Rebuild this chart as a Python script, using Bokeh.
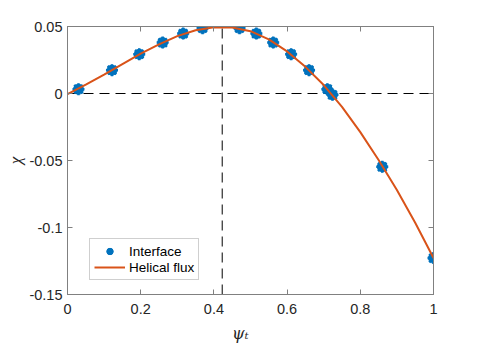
import numpy as np
from bokeh.plotting import figure
from bokeh.models import (Range1d, LinearAxis, FixedTicker, Legend, LegendItem)
from bokeh.embed import file_html
from bokeh.resources import INLINE

# ---- data ----
psi_interface = [0.030, 0.1215, 0.196, 0.260, 0.316, 0.369, 0.470, 0.516,
                 0.562, 0.611, 0.660, 0.710, 0.724, 0.860, 1.000]
chi_interface = [0.0032, 0.0174, 0.0293, 0.0380, 0.0447, 0.0487, 0.0487, 0.0447,
                 0.0380, 0.0293, 0.0174, 0.0032, -0.0010, -0.0547, -0.1228]

psi_flux = [0.0, 0.05, 0.1, 0.15, 0.2, 0.25, 0.3, 0.35, 0.4, 0.45, 0.5,
            0.55, 0.6, 0.65, 0.7, 0.75, 0.8, 0.85, 0.9, 0.95, 1.0]
chi_flux = [-0.0005, 0.0066, 0.0141, 0.0220, 0.0298, 0.0367, 0.0428, 0.0472,
            0.0494, 0.0493, 0.0465, 0.0404, 0.0314, 0.0199, 0.0063, -0.0100,
            -0.0288, -0.0496, -0.0720, -0.0965, -0.1228]

psi_peak = 0.4227
x_ticks = [0, 0.2, 0.4, 0.6, 0.8, 1]
x_tick_labels = ["0", "0.2", "0.4", "0.6", "0.8", "1"]
y_ticks = [-0.15, -0.1, -0.05, 0, 0.05]
y_tick_labels = ["-0.15", "-0.1", "-0.05", "0", "0.05"]
x_min, x_max = 0.0, 1.0
y_min, y_max = -0.15, 0.05

BLUE = "#0072BD"
ORANGE = "#D95319"
AXC = "#808080"
TXT = "#262626"
FONT = "Liberation Sans"

p = figure(width=470, height=349, output_backend="svg", toolbar_location=None,
           x_range=Range1d(x_min, x_max), y_range=Range1d(y_min, y_max),
           min_border_left=67, min_border_right=37, min_border_top=26,
           min_border_bottom=55)
p.background_fill_color = "white"
p.border_fill_color = "white"
p.outline_line_color = AXC
p.outline_line_width = 1
p.xgrid.visible = False
p.ygrid.visible = False

bottom_ax = p.below[0]
left_ax = p.left[0]

def style_axis(ax, ticks, labels, show_labels, standoff):
    ax.ticker = FixedTicker(ticks=ticks)
    ax.axis_line_color = AXC
    ax.major_tick_line_color = AXC
    ax.major_tick_in = 5
    ax.major_tick_out = 0
    ax.minor_tick_line_color = None
    ax.major_label_text_font = FONT
    ax.major_label_text_color = TXT
    if show_labels:
        ax.major_label_overrides = {t: l for t, l in zip(ticks, labels)}
        ax.major_label_text_font_size = "14.5px"
        ax.major_label_standoff = standoff
    else:
        ax.major_label_text_font_size = "0px"
        ax.major_label_standoff = 0
        ax.major_label_overrides = {t: "" for t in ticks}

style_axis(bottom_ax, x_ticks, x_tick_labels, True, 9)
style_axis(left_ax, y_ticks, y_tick_labels, True, 5)
top_ax = LinearAxis()
right_ax = LinearAxis()
style_axis(top_ax, x_ticks, x_tick_labels, False, 0)
style_axis(right_ax, y_ticks, y_tick_labels, False, 0)
p.add_layout(top_ax, "above")
p.add_layout(right_ax, "right")

# axis labels
bottom_ax.axis_label = "ψₜ\u00a0\u00a0\u00a0\u00a0"
bottom_ax.axis_label_text_font = "DejaVu Serif"
bottom_ax.axis_label_text_font_style = "italic"
bottom_ax.axis_label_text_font_size = "16px"
bottom_ax.axis_label_text_color = TXT
bottom_ax.axis_label_standoff = 7
left_ax.axis_label = "χ"
left_ax.axis_label_text_font = "Liberation Serif"
left_ax.axis_label_text_font_style = "italic"
left_ax.axis_label_text_font_size = "17px"
left_ax.axis_label_text_color = TXT
left_ax.axis_label_standoff = 1

# dashed guide lines
p.line([x_min, x_max], [0, 0], line_color="black", line_width=1, line_dash="10 6")
p.line([psi_peak, psi_peak], [y_min, y_max], line_color="black", line_width=1,
       line_dash="10 6")

# interface markers
r_c = p.scatter(psi_interface, chi_interface, marker="circle", size=10,
                fill_color=BLUE, line_color=BLUE)
r_a = p.scatter(psi_interface, chi_interface, marker="asterisk", size=12,
                line_color=BLUE, line_width=2.5)
# helical flux curve
r_l = p.line(psi_flux, chi_flux, line_color=ORANGE, line_width=2,
             line_join="round")

legend = Legend(items=[LegendItem(label="Interface", renderers=[r_c, r_a]),
                       LegendItem(label="Helical flux", renderers=[r_l])],
                location=(22, 14))
legend.label_text_font = FONT
legend.label_text_font_size = "13.5px"
legend.label_text_color = "black"
legend.padding = 4
legend.spacing = 0
legend.margin = 0
legend.glyph_width = 31
legend.glyph_height = 16
legend.label_height = 16
legend.label_standoff = 4
legend.border_line_color = "#a0a0a0"
legend.border_line_width = 1
legend.background_fill_color = "white"
legend.background_fill_alpha = 1
p.add_layout(legend, "center")

open("out.html", "w").write(file_html(p, INLINE))
